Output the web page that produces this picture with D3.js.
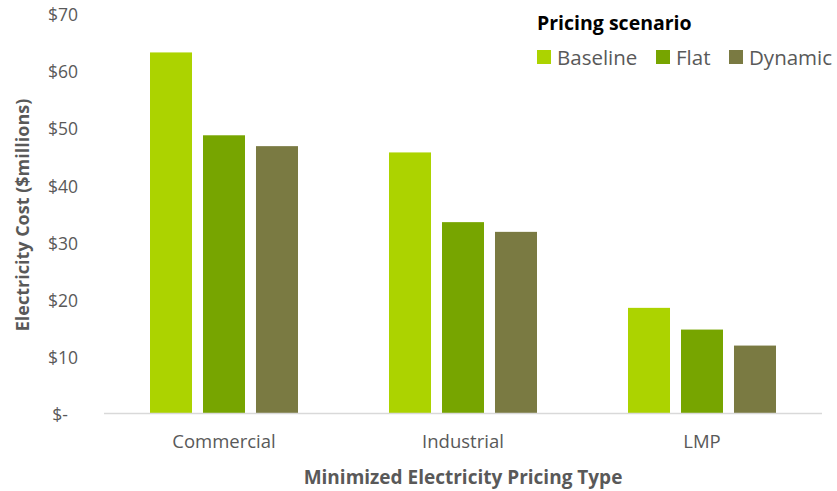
<!DOCTYPE html>
<html>
<head>
<meta charset="utf-8">
<script src="https://cdn.jsdelivr.net/npm/d3@7"></script>
<style>
  html, body { margin: 0; padding: 0; background: #fff; }
  svg { display: block; font-family: "Open Sans", sans-serif; }
</style>
</head>
<body>
<svg id="chart" width="837" height="491"></svg>
<script>
// Electricity cost by pricing type and scenario ($ millions)
const categories = ["Commercial", "Industrial", "LMP"];
const series = ["Baseline", "Flat", "Dynamic"];
const baseline = [63.1, 45.6, 18.4];
const flat = [48.6, 33.4, 14.6];
const dynamic = [46.7, 31.7, 11.8];
const yTicks = [0, 10, 20, 30, 40, 50, 60, 70];
const yTickLabels = ["$-", "$10", "$20", "$30", "$40", "$50", "$60", "$70"];
const colors = ["#acd300", "#77a500", "#7a7a42"];

const values = [baseline, flat, dynamic];
const rows = categories.map((c, i) => ({
  category: c,
  items: series.map((s, j) => ({ series: s, value: values[j][i], color: colors[j] }))
}));

const svg = d3.select("#chart");

const x0 = d3.scaleBand()
  .domain(categories)
  .range([104.5, 821.5])
  .paddingInner(0.3808)
  .paddingOuter(0.1904);

const x1 = d3.scaleBand()
  .domain(series)
  .range([0, x0.bandwidth()])
  .paddingInner(0.2075)
  .paddingOuter(0);

const y = d3.scaleLinear().domain([0, 70]).range([413, 13]);

// bars
const groups = svg.append("g").selectAll("g")
  .data(rows)
  .join("g")
  .attr("transform", d => `translate(${x0(d.category)},0)`);

groups.selectAll("rect")
  .data(d => d.items)
  .join("rect")
  .attr("x", d => x1(d.series))
  .attr("y", d => y(d.value))
  .attr("width", x1.bandwidth())
  .attr("height", d => y(0) - y(d.value))
  .attr("fill", d => d.color);

// baseline axis
svg.append("line")
  .attr("x1", 104).attr("x2", 822)
  .attr("y1", y(0) + 0.5).attr("y2", y(0) + 0.5)
  .attr("stroke", "#d9d9d9")
  .attr("stroke-width", 1.5);

// y tick labels
svg.append("g").selectAll("text")
  .data(yTicks)
  .join("text")
  .attr("x", (d, i) => i === 0 ? 68 : 78)
  .attr("y", d => y(d) + 2)
  .attr("dy", "0.35em")
  .attr("text-anchor", "end")
  .attr("font-size", 17.5)
  .attr("fill", "#595959")
  .text((d, i) => yTickLabels[i]);

// category labels
svg.append("g").selectAll("text")
  .data(categories)
  .join("text")
  .attr("x", d => x0(d) + x0.bandwidth() / 2)
  .attr("y", 442)
  .attr("dy", "0.35em")
  .attr("text-anchor", "middle")
  .attr("font-size", 18.5)
  .attr("fill", "#595959")
  .text(d => d);

// axis titles
svg.append("text")
  .attr("x", 463)
  .attr("y", 477)
  .attr("dy", "0.35em")
  .attr("text-anchor", "middle")
  .attr("font-size", 19)
  .attr("font-weight", "bold")
  .attr("fill", "#595959")
  .text("Minimized Electricity Pricing Type");

svg.append("text")
  .attr("transform", "translate(23,215) rotate(-90)")
  .attr("dy", "0.35em")
  .attr("text-anchor", "middle")
  .attr("font-size", 18)
  .attr("font-weight", "bold")
  .attr("fill", "#595959")
  .text("Electricity Cost ($millions)");

// legend
svg.append("text")
  .attr("x", 537)
  .attr("y", 23)
  .attr("dy", "0.35em")
  .attr("font-size", 19.5)
  .attr("font-weight", "bold")
  .attr("fill", "#000")
  .text("Pricing scenario");

const legendX = [537, 656, 729];
const legend = svg.append("g").selectAll("g")
  .data(series)
  .join("g")
  .attr("transform", (d, i) => `translate(${legendX[i]},0)`);

legend.append("rect")
  .attr("x", 0).attr("y", 50)
  .attr("width", 14).attr("height", 14)
  .attr("fill", (d, i) => colors[i]);

legend.append("text")
  .attr("x", 20)
  .attr("y", 58)
  .attr("dy", "0.35em")
  .attr("font-size", 20.5)
  .attr("fill", "#595959")
  .text(d => d);
</script>
</body>
</html>
